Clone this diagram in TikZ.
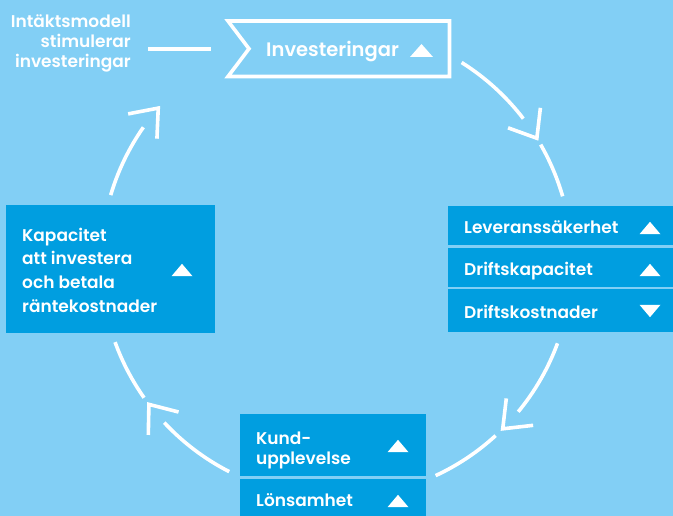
\documentclass[tikz,border=0pt]{standalone}
\usepackage{fontspec}
\setmainfont{Poppins}[UprightFont=* SemiBold]
\definecolor{bgblue}{HTML}{82CFF5}
\definecolor{boxblue}{HTML}{009EE0}
\newcommand\upmark[1]{\fill[white] (#1) ++(-10.5,-6.2) -- ++(21,0) -- ++(-10.5,12.4) -- cycle;}
\newcommand\downmark[1]{\fill[white] (#1) ++(-10.5,6.2) -- ++(21,0) -- ++(-10.5,-12.4) -- cycle;}
\newcommand\ringarc[2]{\draw[flow] (mid) ++(#1:235.5) arc[start angle=#1,end angle=#2,radius=235.5];}
\begin{document}
\begin{tikzpicture}[x=1pt,y=1pt,
    box/.style={fill=boxblue,inner sep=0,anchor=north west},
    txt/.style={text=white,inner sep=0,align=left,font=\fontsize{17}{20}\selectfont},
    flow/.style={draw=white,line width=3.6pt}]
  \fill[bgblue] (0,0) rectangle (673,-516);
  \useasboundingbox (0,0) rectangle (673,-516);
  \coordinate (mid) at (336.5,-262);

  % ring with arrows
  \ringarc{163.5}{145.1}
  \ringarc{57.9}{37.5}
  \ringarc{29.9}{16.2}
  \ringarc{-20.2}{-39.5}
  \ringarc{-47.5}{-65.1}
  \ringarc{242.9}{223}
  \ringarc{215.2}{199.9}
  \foreach \a in {139.2,31.7,-45.1,217.2}
    \draw[flow,shift={(336.5,-262)},rotate=\a] (216.5,24) -- (235.5,0) -- (254.5,24);

  % top
  \node[txt,align=right,anchor=base east] (intak) at (131,-68) {Intäktsmodell\\stimulerar\\investeringar};
  \draw[flow] (228,-21) -- (449.5,-21) -- (449.5,-76.5) -- (228,-76.5) -- (249,-48.75) -- cycle;
  \node[txt,anchor=base west,font=\fontsize{19.5}{22}\selectfont] (invest) at (266,-57) {Investeringar};
  \fill[white] (410,-57) -- (433,-57) -- (421.5,-44) -- cycle;
  \coordinate (lineL) at (148,-49);
  \coordinate (lineR) at (211,-49);
  \draw[flow] (lineL) -- (lineR);

  % right
  \node[box,minimum width=225,minimum height=39] (lever) at (448,-206) {};
  \node[box,minimum width=225,minimum height=39] (drkap) at (448,-248) {};
  \node[box,minimum width=225,minimum height=43] (drkost) at (448,-289) {};
  \node[txt,anchor=base west] at (464,-234) {Leveranssäkerhet};
  \node[txt,anchor=base west] at (464,-276) {Driftskapacitet};
  \node[txt,anchor=base west] at (464,-318) {Driftskostnader};
  \upmark{650,-228}
  \upmark{650,-270}
  \downmark{650,-311}

  % bottom
  \node[box,minimum width=186,minimum height=62] (kund) at (240,-414) {};
  \node[box,minimum width=186,minimum height=37] (lons) at (240,-479) {};
  \node[txt,anchor=base west] at (256,-464) {Kund-\\upplevelse};
  \node[txt,anchor=base west] at (256,-506) {Lönsamhet};
  \upmark{398,-446}
  \upmark{398,-501}

  % left
  \node[box,minimum width=209,minimum height=128] (kapac) at (6,-205) {};
  \node[txt,anchor=base west,font=\fontsize{17}{23.8}\selectfont] at (22,-312.4) {Kapacitet\\att investera\\och betala\\räntekostnader};
  \upmark{182,-270}
\end{tikzpicture}
\end{document}
